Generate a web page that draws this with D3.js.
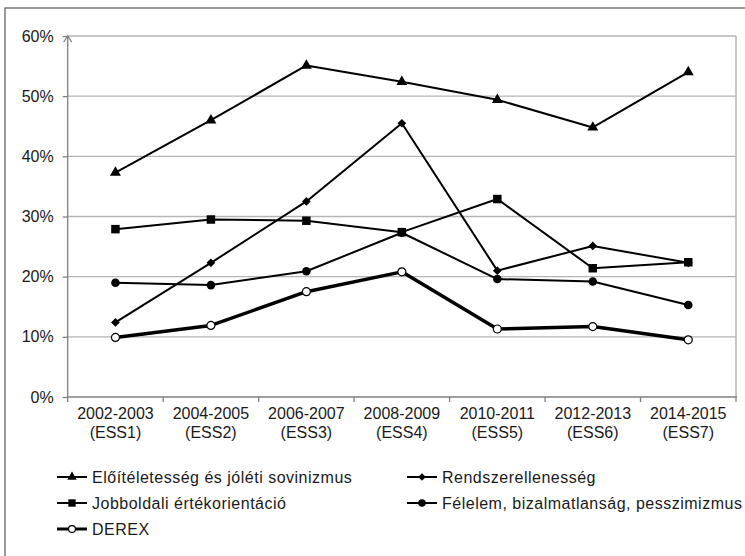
<!DOCTYPE html>
<html>
<head>
<meta charset="utf-8">
<script src="https://cdn.jsdelivr.net/npm/d3@7"></script>
<style>
  body { margin:0; background:#fff; }
  svg text { font-family: "Liberation Sans", Arial, sans-serif; fill:#1a1a1a; }
</style>
</head>
<body>
<svg id="chart" width="745" height="556"></svg>
<script>
// adatok
var waves = ["2002-2003","2004-2005","2006-2007","2008-2009","2010-2011","2012-2013","2014-2015"];
var waveCodes = ["(ESS1)","(ESS2)","(ESS3)","(ESS4)","(ESS5)","(ESS6)","(ESS7)"];
var yTicks = [0,10,20,30,40,50,60];

var eloitelet = [37.3,46.0,55.1,52.4,49.4,44.8,54.0];
var rendszer = [12.4,22.3,32.5,45.5,21.0,25.1,22.3];
var jobboldal = [27.9,29.5,29.3,27.4,32.9,21.4,22.4];
var felelem = [19.0,18.6,20.9,27.3,19.6,19.2,15.3];
var derex = [9.9,11.9,17.5,20.8,11.3,11.7,9.5];

var series = [
  {name:"Előítéletesség és jóléti sovinizmus", values:eloitelet, marker:"triangle", width:2},
  {name:"Rendszerellenesség", values:rendszer, marker:"diamond", width:2},
  {name:"Jobboldali értékorientáció", values:jobboldal, marker:"square", width:2},
  {name:"Félelem, bizalmatlanság, pesszimizmus", values:felelem, marker:"circle", width:2},
  {name:"DEREX", values:derex, marker:"open", width:3.5}
];

var svg = d3.select("#chart");
var m = {left:67.7, top:36, right:736, bottom:397};

// keret
svg.append("rect")
  .attr("x",5).attr("y",8).attr("width",760).attr("height",560)
  .attr("fill","none").attr("stroke","#555").attr("stroke-width",1.2);

var x = d3.scaleBand().domain(waves).range([m.left,m.right]);
var y = d3.scaleLinear().domain([0,60]).range([m.bottom,m.top]);

// rács
svg.append("g").selectAll("line")
  .data(yTicks.slice(1))
  .enter().append("line")
  .attr("x1",m.left).attr("x2",m.right)
  .attr("y1",function(d){return y(d)}).attr("y2",function(d){return y(d)})
  .attr("stroke","#b5b5b5").attr("stroke-width",1.3);

svg.append("line")
  .attr("x1",m.right).attr("x2",m.right).attr("y1",m.top).attr("y2",m.bottom)
  .attr("stroke","#b5b5b5").attr("stroke-width",1.5);

// y tengely
var yAxis = d3.axisLeft(y).tickValues(yTicks).tickSize(5).tickPadding(9)
  .tickFormat(function(d){return d+"%"});
var gy = svg.append("g").attr("transform","translate("+m.left+",0)").call(yAxis);
gy.select(".domain").remove();
gy.selectAll(".tick line").attr("stroke","#808080").attr("stroke-width",1.3);
gy.selectAll("text").style("font-size","16px").attr("fill","#1a1a1a");
gy.append("line").attr("x1",0).attr("x2",0).attr("y1",m.bottom).attr("y2",m.top)
  .attr("stroke","#808080").attr("stroke-width",1.3);
gy.append("path").attr("d","M-4,"+(m.top+6)+"L0,"+m.top+"L4,"+(m.top+6))
  .attr("fill","none").attr("stroke","#808080").attr("stroke-width",1.3);

// x tengely
var gx = svg.append("g").attr("transform","translate(0,"+m.bottom+")");
gx.append("line").attr("x1",m.left).attr("x2",m.right+1)
  .attr("stroke","#808080").attr("stroke-width",1.3);
gx.selectAll(".tk")
  .data(waves.concat(["end"]))
  .enter().append("line")
  .attr("class","tk")
  .attr("x1",function(d,i){return i<waves.length ? x(d) : m.right})
  .attr("x2",function(d,i){return i<waves.length ? x(d) : m.right})
  .attr("y1",0).attr("y2",5)
  .attr("stroke","#808080").attr("stroke-width",1.3);
var lbl = gx.selectAll(".lbl")
  .data(waves)
  .enter().append("text")
  .attr("class","lbl")
  .attr("text-anchor","middle")
  .style("font-size","16px");
lbl.append("tspan")
  .attr("x",function(d){return x(d)+x.bandwidth()/2})
  .attr("y",22)
  .text(function(d){return d});
lbl.append("tspan")
  .attr("x",function(d){return x(d)+x.bandwidth()/2})
  .attr("y",41)
  .text(function(d,i){return waveCodes[i]});

// jelölők
function drawMarker(g,type,scale){
  scale = scale||1;
  if(type=="triangle"){
    g.append("path").attr("d",d3.symbol().type(d3.symbolTriangle).size(52*scale)()).attr("fill","#000");
  }else if(type=="square"){
    g.append("path").attr("d",d3.symbol().type(d3.symbolSquare).size(72*scale)()).attr("fill","#000");
  }else if(type=="diamond"){
    g.append("path").attr("d",d3.symbol().type(d3.symbolSquare).size(38*scale)())
      .attr("transform","rotate(45)").attr("fill","#000");
  }else if(type=="circle"){
    g.append("circle").attr("r",4.3*Math.sqrt(scale)).attr("fill","#000");
  }else{
    g.append("circle").attr("r",4*Math.sqrt(scale)).attr("fill","#fff")
      .attr("stroke","#000").attr("stroke-width",1.2);
  }
}

var line = d3.line()
  .x(function(d,i){return x(waves[i])+x.bandwidth()/2})
  .y(function(d){return y(d)});

var plot = svg.append("g");
series.forEach(function(s){
  plot.append("path")
    .attr("d",line(s.values))
    .attr("fill","none").attr("stroke","#000")
    .attr("stroke-width",s.width).attr("stroke-linejoin","round");
});
series.forEach(function(s){
  plot.append("g").selectAll("g")
    .data(s.values)
    .enter().append("g")
    .attr("transform",function(d,i){return "translate("+(x(waves[i])+x.bandwidth()/2)+","+y(d)+")"})
    .each(function(){ drawMarker(d3.select(this),s.marker,1); });
});

// jelmagyarázat
var legPos = [[57,477],[407,477],[57,503],[407,503],[57,529]];
var leg = svg.append("g").selectAll("g")
  .data(series)
  .enter().append("g")
  .attr("transform",function(d,i){return "translate("+legPos[i][0]+","+legPos[i][1]+")"});
leg.append("line").attr("x1",0).attr("x2",30)
  .attr("stroke","#000").attr("stroke-width",function(d){return d.width==2?2:3});
leg.each(function(d){
  var g = d3.select(this).append("g").attr("transform","translate(15,0)");
  drawMarker(g,d.marker,0.75);
});
leg.append("text")
  .attr("x",35).attr("y",0).attr("dy","0.35em")
  .style("font-size","16px")
  .style("letter-spacing","0.5px")
  .text(function(d){return d.name});
</script>
</body>
</html>
